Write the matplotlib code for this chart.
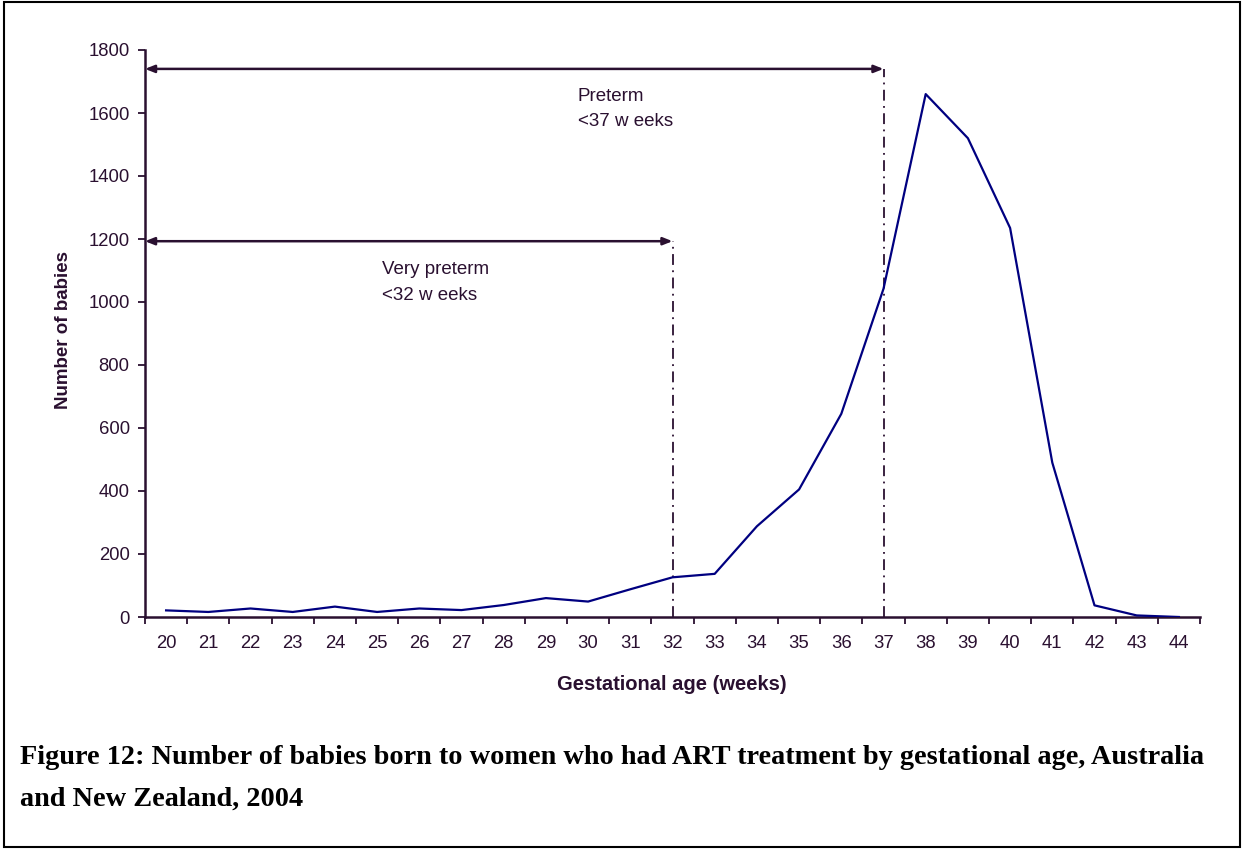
import matplotlib
matplotlib.use("Agg")
import matplotlib.pyplot as plt
from matplotlib.patches import Rectangle
import numpy as np

# Gestational age (weeks) and number of babies
weeks = [20, 21, 22, 23, 24, 25, 26, 27, 28, 29, 30, 31, 32,
         33, 34, 35, 36, 37, 38, 39, 40, 41, 42, 43, 44]
babies = [21, 16, 27, 16, 33, 16, 27, 22, 38, 60, 49, 88, 126,
          137, 288, 405, 645, 1042, 1660, 1520, 1235, 490, 37, 5, 0]

y_ticks = [0, 200, 400, 600, 800, 1000, 1200, 1400, 1600, 1800]

# Preterm bands: (label, upper week, arrow height, text x, text y)
bands = [("Preterm\n<37 w eeks", 37, 1740, 29.75, 1680),
         ("Very preterm\n<32 w eeks", 32, 1193, 25.12, 1130)]

dark = "#2a1030"
line_col = "#000080"

plt.rcParams["font.family"] = ["Liberation Sans", "DejaVu Sans"]

fig = plt.figure(figsize=(12.42, 8.49), dpi=100)
ax = fig.add_axes([145 / 1242, 1 - 617 / 849, 1055 / 1242, 567 / 849])

ax.plot(weeks, babies, color=line_col, lw=1.6, zorder=3)

for label, wk, yy, tx, ty in bands:
    ax.annotate("", xy=(wk, yy), xytext=(weeks[0] - 0.5, yy),
                arrowprops=dict(arrowstyle="<|-|>,head_length=0.55,head_width=0.22",
                                color=dark, lw=1.8, shrinkA=0, shrinkB=0))
    ax.plot([wk, wk], [0, yy], color=dark, lw=1.3, linestyle=(0, (6, 3, 1, 3)))
    ax.text(tx, ty, label, fontsize=13.5, color=dark, va="top", ha="left",
            linespacing=1.65)

ax.set_xlim(weeks[0] - 0.5, weeks[-1] + 0.5)
ax.set_ylim(0, 1800)

# category boundaries as ticks, labels at the centres
ax.set_xticks(np.arange(weeks[0] - 0.5, weeks[-1] + 1, 1))
ax.set_xticklabels([])
ax.set_xticks(weeks, minor=True)
ax.set_xticklabels([str(w) for w in weeks], minor=True)
ax.tick_params(axis="x", which="major", direction="out", length=5, width=1.3, color=dark)
ax.tick_params(axis="x", which="minor", length=0, pad=13, labelsize=13.3, labelcolor=dark)

ax.set_yticks(y_ticks)
ax.set_yticklabels([str(v) for v in y_ticks])
ax.tick_params(axis="y", direction="out", length=5, width=1.3, color=dark,
               pad=6, labelsize=13.3, labelcolor=dark)

for s in ["top", "right"]:
    ax.spines[s].set_visible(False)
for s in ["left", "bottom"]:
    ax.spines[s].set_color(dark)
    ax.spines[s].set_linewidth(1.8)

fig.text(672 / 1242, 1 - 684 / 849, "Gestational age (weeks)", fontsize=14.5,
         fontweight="bold", color=dark, ha="center", va="center")
fig.text(63 / 1242, 1 - 330 / 849, "Number of babies", fontsize=13.5,
         fontweight="bold", color=dark, ha="center", va="center", rotation=90)

fig.text(20 / 1242, 1 - 757 / 849,
         "Figure 12: Number of babies born to women who had ART treatment by gestational age, Australia",
         fontsize=20.3, fontweight="bold", family="Liberation Serif", ha="left", va="center")
fig.text(20 / 1242, 1 - 799 / 849, "and New Zealand, 2004",
         fontsize=20.3, fontweight="bold", family="Liberation Serif", ha="left", va="center")

fig.patches.append(Rectangle((4 / 1242, 2 / 849), 1236 / 1242, 845 / 849,
                             transform=fig.transFigure, fill=False,
                             edgecolor="black", lw=1.5))

fig.savefig("out.png", dpi=100)
